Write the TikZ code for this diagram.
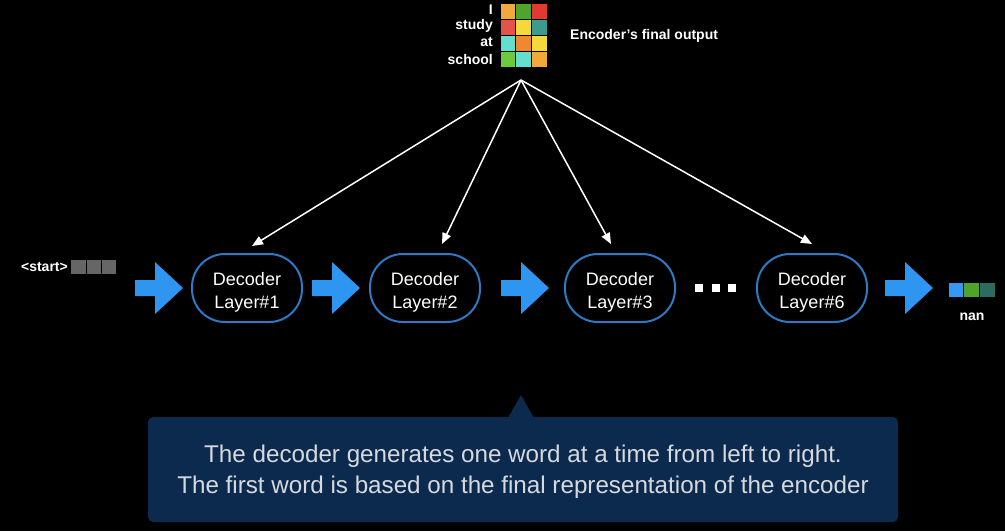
\documentclass[tikz,border=0pt]{standalone}
\usepackage{fontspec}
\setmainfont{Liberation Sans}
\usetikzlibrary{arrows.meta,calc}
\definecolor{bgblack}{HTML}{000000}
\definecolor{arrblue}{HTML}{2E95F0}
\definecolor{nodeblue}{HTML}{2F78C4}
\definecolor{calloutfill}{HTML}{0C2A4E}
\definecolor{callouttext}{HTML}{D6D9DE}
\definecolor{cgray}{HTML}{666666}
\definecolor{cOrange}{HTML}{F2A93B}
\definecolor{cGreen}{HTML}{4FA52B}
\definecolor{cRed}{HTML}{E23A30}
\definecolor{cCoral}{HTML}{E4524A}
\definecolor{cYellow}{HTML}{F5D83B}
\definecolor{cTeal}{HTML}{3A9C90}
\definecolor{cTurq}{HTML}{62DFCF}
\definecolor{cOrange2}{HTML}{F0882F}
\definecolor{cLime}{HTML}{6CCB3B}
\definecolor{oBlue}{HTML}{3399F5}
\definecolor{oGreen}{HTML}{4FA52B}
\definecolor{oDark}{HTML}{2D6A60}
\tikzset{
  decbox/.style={draw=nodeblue, line width=2pt, rounded corners=33pt, minimum width=110pt, minimum height=68pt, inner sep=0pt},
  dectext/.style={align=center, text=white, font=\fontsize{18}{23}\selectfont, inner sep=0pt},
  bigarrow/.style={fill=arrblue},
  cell/.style={draw=black, line width=0.8pt, minimum width=15.7pt, minimum height=16pt, inner sep=0pt},
  lbl/.style={text=white, font=\bfseries\fontsize{14}{15}\selectfont, inner sep=0pt},
  conn/.style={draw=white, line width=1.5pt, -{Triangle[length=11pt,width=9pt]}},
  dot/.style={fill=white, minimum size=8pt, inner sep=0pt},
}
\begin{document}
\begin{tikzpicture}[x=1pt,y=-1pt]
\fill[bgblack] (0,0) rectangle (1005,531);
\useasboundingbox (0,0) rectangle (1005,531);

% encoder matrix
\foreach \r/\ca/\cb/\cc in {0/cOrange/cGreen/cRed,1/cCoral/cYellow/cTeal,2/cTurq/cOrange2/cYellow,3/cLime/cTurq/cOrange}{
  \node[cell,fill=\ca] (m\r a) at (508,{11+16*\r}) {};
  \node[cell,fill=\cb] (m\r b) at (523.7,{11+16*\r}) {};
  \node[cell,fill=\cc] (m\r c) at (539.4,{11+16*\r}) {};
}
\node[lbl,anchor=east] (w1) at (493,10) {I};
\node[lbl,anchor=east] (w2) at (493,26) {study};
\node[lbl,anchor=east] (w3) at (493,42) {at};
\node[lbl,anchor=east] (w4) at (493,59) {school};
\node[lbl,anchor=west] (enc) at (570,36) {Encoder's final output};

% start
\node[lbl,anchor=east] (start) at (68,267) {<start>};
\foreach \i in {0,1,2}{
  \node[cell,fill=cgray,minimum width=15.3pt,minimum height=15pt] (s\i) at ({78.5+15.3*\i},267) {};
}

% decoder nodes
\foreach \n/\x/\k in {d1/247/1,d2/425/2,d3/620/3,d6/812/6}{
  \node[decbox] (\n) at (\x,288) {};
  \node[dectext] (\n t) at ($(\n)+(0,4)$) {Decoder\\Layer\#\k};
}

% big arrows
\foreach \x in {135,312,501,885}{
  \fill[bigarrow,shift={(\x,288)}] (0,-8) -- (20,-8) -- (20,-26) -- (48,0) -- (20,26) -- (20,8) -- (0,8) -- cycle;
}

% dots
\node[dot] (dt1) at (699,288) {};
\node[dot] (dt2) at (716,288) {};
\node[dot] (dt3) at (732,288) {};

% output
\node[cell,fill=oBlue,minimum width=15.7pt,minimum height=15pt] (o1) at (956,289.5) {};
\node[cell,fill=oGreen,minimum width=15.7pt,minimum height=15pt] (o2) at (971.7,289.5) {};
\node[cell,fill=oDark,minimum width=15.7pt,minimum height=15pt] (o3) at (987.4,289.5) {};
\node[lbl] (nan) at (972,317) {nan};

% connectors
\coordinate (hub) at (521,80);
\coordinate (e1) at ($(d1.north)+(5,-7)$);
\coordinate (e2) at ($(d2.north)+(17,-9)$);
\coordinate (e3) at ($(d3.north)+(-9,-9)$);
\coordinate (e6) at ($(d6.north)+(0,-9)$);
\foreach \e in {e1,e2,e3,e6}{ \draw[conn] (hub) -- (\e); }

% callout
\fill[calloutfill,rounded corners=5pt] (148,417) rectangle (898,522);
\fill[calloutfill] (508,418) -- (521,395) -- (534,418) -- cycle;
\node[text=callouttext, align=center, font=\fontsize{24.2}{31}\selectfont] (note) at (523,472) {The decoder generates one word at a time from left to right.\\The first word is based on the final representation of the encoder};
\end{tikzpicture}
\end{document}
